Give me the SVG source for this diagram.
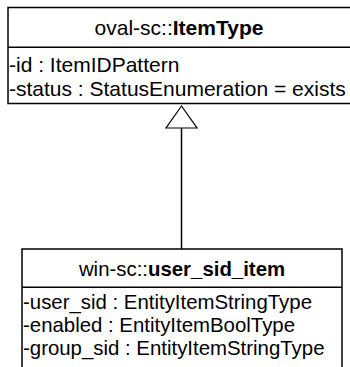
<svg xmlns="http://www.w3.org/2000/svg" width="350" height="367" viewBox="0 0 350 367">
<style>
.box{fill:#fff;stroke:#000;stroke-width:1.5}
.ln{stroke:#000;stroke-width:1.5;fill:none}
text{font-family:"Liberation Sans",Arial,sans-serif;font-size:21px;fill:#000}
#user_sid_item text{font-size:20.4px}
.h{text-anchor:middle}
.b{font-weight:bold}
</style>
<g id="connectors">
<line class="ln" x1="181.5" y1="128" x2="181.5" y2="249"/>
<polygon points="181.5,106 166,128 197,128" fill="#fff" stroke="#000" stroke-width="1.2"/>
</g>
<g id="ItemType">
<rect class="box" x="8" y="7.5" width="344" height="96"/>
<line class="ln" x1="8" y1="47.3" x2="352" y2="47.3"/>
<text class="h" x="179" y="34.5">oval-sc::<tspan class="b">ItemType</tspan></text>
<text x="9" y="71.5">-id : ItemIDPattern</text>
<text x="9" y="95.5">-status : StatusEnumeration = exists</text>
</g>
<g id="user_sid_item">
<rect class="box" x="22" y="249" width="320" height="125"/>
<line class="ln" x1="22" y1="287.3" x2="342" y2="287.3"/>
<text class="h" x="182" y="275.5">win-sc::<tspan class="b">user_sid_item</tspan></text>
<text x="23" y="308.5">-user_sid : EntityItemStringType</text>
<text x="23" y="331.5">-enabled : EntityItemBoolType</text>
<text x="23" y="354.5">-group_sid : EntityItemStringType</text>
</g>
</svg>
